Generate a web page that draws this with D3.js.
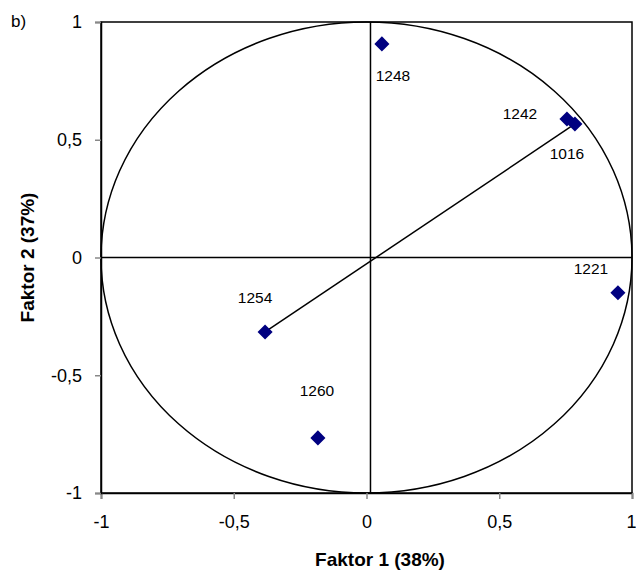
<!DOCTYPE html>
<html>
<head>
<meta charset="utf-8">
<script src="https://cdn.jsdelivr.net/npm/d3@7"></script>
<style>
body{margin:0;background:#fff;}
text{font-family:"Liberation Sans",Arial,sans-serif;}
</style>
</head>
<body>
<svg id="c" width="636" height="573"></svg>
<script>
// Data
const labels = ["1248","1242","1016","1221","1254","1260"];
const factor1 = [0.058, 0.755, 0.785, 0.947, -0.382, -0.183];
const factor2 = [0.907, 0.588, 0.567, -0.150, -0.316, -0.766];
const tickValues = [-1, -0.5, 0, 0.5, 1];
const tickLabels = ["-1", "-0,5", "0", "0,5", "1"];
const lineFrom = "1254", lineTo = "1016";
const xTitle = "Faktor 1 (38%)";
const yTitle = "Faktor 2 (37%)";
const panelLabel = "b)";

// label placement (pixel offsets from marker)
const labelDx = [11, -47, -8, -27, -10, -1];
const labelDy = [33, -4, 31, -23, -33, -46];

const svg = d3.select("#c");
const L = 101, R = 632, T = 22, B = 493;
const x = d3.scaleLinear().domain([-1, 1]).range([L, R]);
const y = d3.scaleLinear().domain([-1, 1]).range([B, T]);
const tickFmt = d => tickLabels[tickValues.indexOf(d)];

// frame
svg.append("rect").attr("x", L).attr("y", T).attr("width", R - L).attr("height", B - T)
  .attr("fill", "none").attr("stroke", "#000").attr("stroke-width", 1.5);

// unit circle
svg.append("ellipse").attr("cx", x(0)).attr("cy", y(0))
  .attr("rx", x(1) - x(0)).attr("ry", y(0) - y(1))
  .attr("fill", "none").attr("stroke", "#000").attr("stroke-width", 1.5);

// cross lines
svg.append("line").attr("x1", x(0.015)).attr("x2", x(0.015)).attr("y1", y(-1)).attr("y2", y(1))
  .attr("stroke", "#000").attr("stroke-width", 1.5);
svg.append("line").attr("x1", x(-1)).attr("x2", x(1)).attr("y1", y(0)).attr("y2", y(0))
  .attr("stroke", "#000").attr("stroke-width", 1.5);

// connecting line
const i0 = labels.indexOf(lineFrom), i1 = labels.indexOf(lineTo);
svg.append("line").attr("x1", x(factor1[i0])).attr("y1", y(factor2[i0]))
  .attr("x2", x(factor1[i1])).attr("y2", y(factor2[i1]))
  .attr("stroke", "#000").attr("stroke-width", 1.5);

// axes
const xa = svg.append("g").attr("transform", `translate(0,${B})`)
  .call(d3.axisBottom(x).tickValues(tickValues).tickFormat(tickFmt).tickSize(6).tickPadding(16));
const ya = svg.append("g").attr("transform", `translate(${L},0)`)
  .call(d3.axisLeft(y).tickValues(tickValues).tickFormat(tickFmt).tickSize(6).tickPadding(13));
[xa, ya].forEach(g => {
  g.select(".domain").attr("stroke", "#000").attr("stroke-width", 1.5);
  g.selectAll(".tick line").attr("stroke", "#888").attr("stroke-width", 1.5);
  g.selectAll("text").attr("font-size", 18).attr("fill", "#000")
    .style("font-family", "'Liberation Sans', Arial, sans-serif");
});
// keep the last x tick label inside the page edge
xa.selectAll(".tick text").filter(d => d === 1).attr("text-anchor", "end").attr("dx", 4);

// markers
const diamond = d3.symbol().type(d3.symbolDiamond2).size(145);
svg.selectAll(".pt").data(labels).join("path")
  .attr("class", "pt")
  .attr("transform", (d, i) => `translate(${x(factor1[i])},${y(factor2[i])})`)
  .attr("d", diamond).attr("fill", "#000080");

// point labels
svg.selectAll(".lbl").data(labels).join("text")
  .attr("class", "lbl")
  .attr("x", (d, i) => x(factor1[i]) + labelDx[i])
  .attr("y", (d, i) => y(factor2[i]) + labelDy[i])
  .attr("text-anchor", "middle").attr("dominant-baseline", "middle")
  .attr("font-size", 15.5).attr("fill", "#000").text(d => d);

// titles
svg.append("text").attr("x", 380).attr("y", 566).attr("text-anchor", "middle")
  .attr("font-size", 19).attr("font-weight", "bold").text(xTitle);
svg.append("text").attr("transform", `translate(34,${(T + B) / 2}) rotate(-90)`)
  .attr("text-anchor", "middle").attr("font-size", 19).attr("font-weight", "bold").text(yTitle);
svg.append("text").attr("x", 11).attr("y", 27).attr("font-size", 17).text(panelLabel);
</script>
</body>
</html>
